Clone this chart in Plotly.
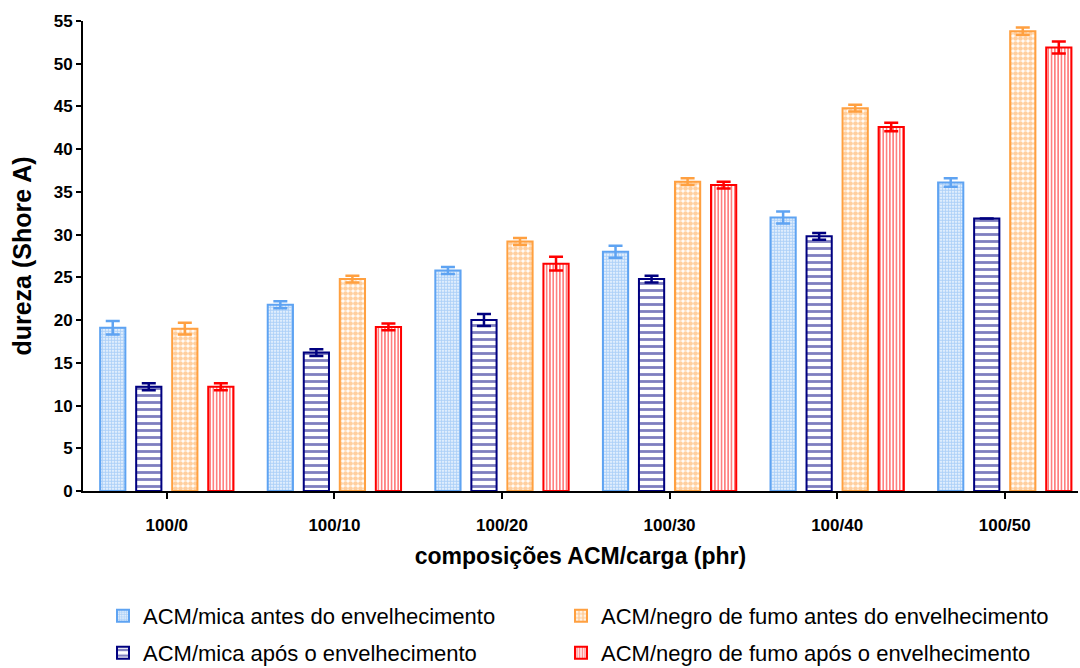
import plotly.graph_objects as go

categories = ["100/0", "100/10", "100/20", "100/30", "100/40", "100/50"]

mica_antes = [19.1, 21.8, 25.8, 28.0, 32.0, 36.1]
mica_antes_err = [0.8, 0.4, 0.4, 0.7, 0.7, 0.5]
mica_apos = [12.2, 16.2, 20.0, 24.8, 29.8, 31.9]
mica_apos_err = [0.4, 0.4, 0.7, 0.4, 0.4, 0.0]
negro_antes = [19.0, 24.8, 29.2, 36.2, 44.8, 53.8]
negro_antes_err = [0.7, 0.4, 0.4, 0.4, 0.4, 0.45]
negro_apos = [12.2, 19.2, 26.6, 35.8, 42.6, 51.9]
negro_apos_err = [0.4, 0.4, 0.8, 0.4, 0.5, 0.7]

names = [
    "ACM/mica antes do envelhecimento",
    "ACM/mica após o envelhecimento",
    "ACM/negro de fumo antes do envelhecimento",
    "ACM/negro de fumo após o envelhecimento",
]

FONT = "Liberation Sans, Arial, sans-serif"

series = [
    (names[0], mica_antes, mica_antes_err, "#5ea3f2", dict(shape=".", fgcolor="#5ea3f2", bgcolor="white", size=3, solidity=0.7), "legend"),
    (names[1], mica_apos, mica_apos_err, "#000080", dict(shape="-", fgcolor="#000080", bgcolor="white", size=7, solidity=0.4), "legend3"),
    (names[2], negro_antes, negro_antes_err, "#ffa040", dict(shape=".", fgcolor="#ffa040", bgcolor="white", size=5, solidity=0.7), "legend2"),
    (names[3], negro_apos, negro_apos_err, "#ff0000", dict(shape="|", fgcolor="#ff0000", bgcolor="white", size=3.3, solidity=0.5), "legend4"),
]

fig = go.Figure()
for name, vals, errs, color, pattern, leg in series:
    fig.add_trace(go.Bar(
        name=name,
        x=categories,
        y=vals,
        legend=leg,
        showlegend=True,
        marker=dict(color="white", line=dict(color=color, width=2), pattern=pattern),
        error_y=dict(type="data", array=errs, visible=True, color=color, thickness=2.5, width=7),
    ))

def leg(x, y):
    return dict(
        orientation="h", xref="container", yref="container",
        x=x, y=y, xanchor="left", yanchor="middle",
        font=dict(size=22, family=FONT, color="black"),
        bgcolor="rgba(0,0,0,0)",
    )

fig.update_layout(
    width=1080,
    height=668,
    showlegend=True,
    margin=dict(l=83, r=2, t=21, b=177, autoexpand=False),
    paper_bgcolor="white",
    plot_bgcolor="white",
    barmode="group",
    bargap=0.14,
    bargroupgap=0.3,
    font=dict(family=FONT, color="black"),
    xaxis=dict(
        range=[-0.5, 5.437],
        showline=True, linecolor="black", linewidth=2,
        ticks="outside", ticklen=6, tickwidth=2, tickcolor="black",
        ticklabelstandoff=12,
        tickfont=dict(size=17, family=FONT, color="black", weight="bold"),
        title=dict(text="<b>composições ACM/carga (phr)</b>", font=dict(size=23), standoff=13),
        showgrid=False, zeroline=False,
    ),
    yaxis=dict(
        range=[0, 55],
        tickvals=list(range(0, 56, 5)),
        showline=True, linecolor="black", linewidth=2,
        ticks="outside", ticklen=5, tickwidth=2, tickcolor="black",
        tickfont=dict(size=17, family=FONT, color="black", weight="bold"),
        title=dict(text="<b>dureza (Shore A)</b>", font=dict(size=25), standoff=15),
        showgrid=False, zeroline=False,
    ),
    legend=leg(103 / 1080, 1 - 616 / 668),
    legend2=leg(561 / 1080, 1 - 616 / 668),
    legend3=leg(103 / 1080, 1 - 653 / 668),
    legend4=leg(561 / 1080, 1 - 653 / 668),
)

fig.write_html("out.html")
